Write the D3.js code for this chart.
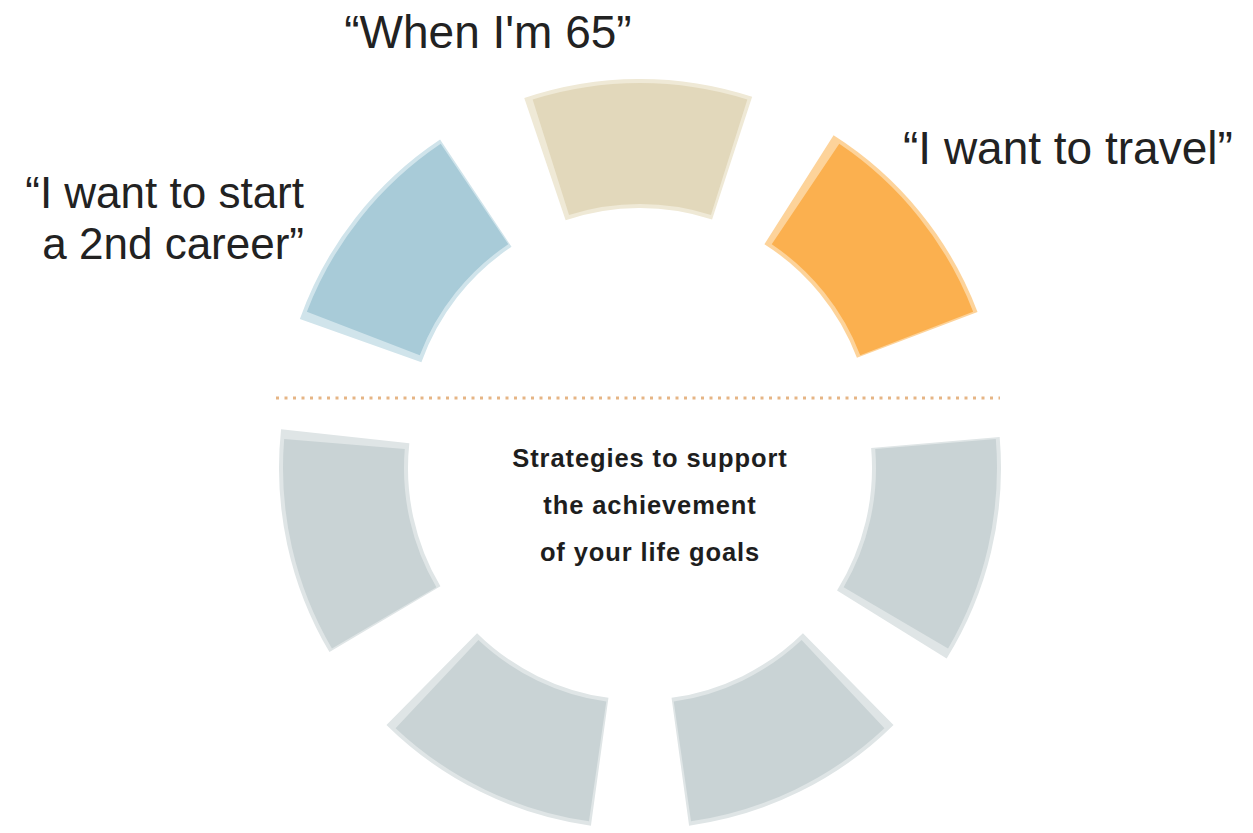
<!DOCTYPE html>
<html>
<head>
<meta charset="utf-8">
<script src="https://cdn.jsdelivr.net/npm/d3@7"></script>
<style>
  body { margin: 0; background: #fff; }
  svg { display: block; }
</style>
</head>
<body>
<div class="chart"></div>
<script>
// ring of life goals (top) and strategies (bottom)
const segments = ["When I'm 65", "Travel", "Strategy A", "Strategy B", "Strategy C", "Strategy D", "2nd career"];
const segmentHalf = ["top", "top", "bottom", "bottom", "bottom", "bottom", "top"];
const goalLabels = ["“When I'm 65”", "“I want to travel”", "", "", "", "", "“I want to start|a 2nd career”"];
const centerLines = ["Strategies to support", "the achievement", "of your life goals"];

const mainColors = ["#e2d8bb", "#fbb04f", "#c9d3d5", "#c9d3d5", "#c9d3d5", "#c9d3d5", "#a8cbd8"];
const lightColors = ["#efe9d6", "#fdd39a", "#dfe5e6", "#dfe5e6", "#dfe5e6", "#dfe5e6", "#d0e4eb"];

const svgWidth = 1253;
const svgHeight = 833;
const cx = 640;
const topCy = 440;
const bottomCy = 468;
const outerR = 357;
const innerR = 236;
const halfSpan = 17.5; // degrees

const svg = d3.select(".chart")
  .append("svg")
  .attr("width", svgWidth)
  .attr("height", svgHeight);

const data = segments.map((name, i) => ({
  name, half: segmentHalf[i], label: goalLabels[i], index: i
}));

// index -> centre angle (degrees, clockwise from 12 o'clock)
const angle = d3.scaleLinear().domain([0, segments.length]).range([0, 360]);
const color = d3.scaleOrdinal().domain(segments).range(mainColors);
const lightColor = d3.scaleOrdinal().domain(segments).range(lightColors);
const rad = d => d * Math.PI / 180;

const mainArc = d3.arc()
  .innerRadius(innerR)
  .outerRadius(outerR)
  .startAngle(d => rad(angle(d.index) - halfSpan))
  .endAngle(d => rad(angle(d.index) + halfSpan));

const shadowArc = d3.arc()
  .innerRadius(innerR - 4)
  .outerRadius(outerR + 4)
  .startAngle(d => rad(angle(d.index) - halfSpan - 0.9))
  .endAngle(d => rad(angle(d.index) + halfSpan + 0.9));

// small twist for the pale copy behind each block
const shadowTwist = [-0.3, -0.6, 0.6, -0.5, 0.5, 0.6, -0.6];

const groups = svg.selectAll("g.seg")
  .data(data)
  .join("g")
  .attr("class", "seg")
  .attr("transform", d => `translate(${cx},${d.half === "top" ? topCy : bottomCy})`);

groups.append("path")
  .attr("d", shadowArc)
  .attr("transform", d => `rotate(${shadowTwist[d.index]})`)
  .style("fill", d => lightColor(d.name));

groups.append("path")
  .attr("d", mainArc)
  .style("fill", d => color(d.name));

// dotted divider
svg.append("line")
  .attr("x1", 276)
  .attr("x2", 1000)
  .attr("y1", 398)
  .attr("y2", 398)
  .style("stroke", "#e6b585")
  .style("stroke-width", 3)
  .style("stroke-dasharray", "3,5.5");

// goal quotes
const labelPos = {
  0: { x: 488, y: 48, size: 46, anchor: "middle" },
  1: { x: 903, y: 164, size: 46, anchor: "start" },
  6: { x: 304, y: 208, size: 44, anchor: "end" }
};

data.filter(d => d.label).forEach(d => {
  const p = labelPos[d.index];
  const t = svg.append("text")
    .attr("x", p.x)
    .attr("y", p.y)
    .attr("text-anchor", p.anchor)
    .style("font-family", "'Liberation Sans', Arial, sans-serif")
    .style("font-size", p.size + "px")
    .style("fill", "#222");
  d.label.split("|").forEach((line, j) => {
    t.append("tspan")
      .attr("x", p.x)
      .attr("dy", j === 0 ? 0 : 51)
      .text(line);
  });
});

// centre caption
svg.selectAll("text.center")
  .data(centerLines)
  .join("text")
  .attr("class", "center")
  .attr("x", 650)
  .attr("y", (d, i) => 467 + i * 47)
  .attr("text-anchor", "middle")
  .style("font-family", "'Liberation Sans', Arial, sans-serif")
  .style("font-weight", "bold")
  .style("font-size", "25.5px")
  .style("letter-spacing", "0.9px")
  .style("fill", "#1e1e1e")
  .text(d => d);
</script>
</body>
</html>
